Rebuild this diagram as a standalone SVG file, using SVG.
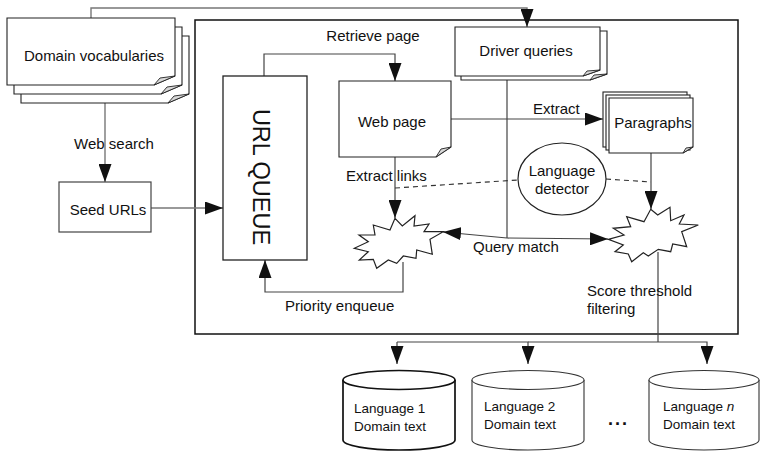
<svg xmlns="http://www.w3.org/2000/svg" width="760" height="451" viewBox="0 0 760 451">
<defs>
<marker id="ah" markerUnits="userSpaceOnUse" markerWidth="18" markerHeight="13" refX="18" refY="6.5" orient="auto">
<path d="M0,0 L18,6.5 L0,13 Z" fill="#111"/>
</marker>
</defs>
<style>
.sh{fill:#fff;stroke:#222;stroke-width:1.1}
.flap{fill:#d8d8d8;stroke:#222;stroke-width:0.9}
.t{font-family:"Liberation Sans",Arial,sans-serif;font-size:15px;fill:#111}
.tc{text-anchor:middle}
.ct{font-family:"Liberation Sans",Arial,sans-serif;font-size:13.5px;fill:#111}
.ln{fill:none;stroke:#444;stroke-width:1.2}
.lg{fill:none;stroke:#777;stroke-width:1.4}
.ar{marker-end:url(#ah)}
.dash{fill:none;stroke:#333;stroke-width:1.1;stroke-dasharray:5,4}
</style>

<g id="outer-box"><rect x="195" y="20" width="543" height="314" fill="none" stroke="#111" stroke-width="1.5"/></g>

<g id="connectors">
<path class="lg ar" d="M91,18 V8 H527 V27"/>
<path class="lg ar" d="M105,103 V182"/>
<path class="lg ar" d="M151,208 H223"/>
<path class="ln ar" d="M264,76 V54 H395 V81"/>
<path class="ln ar" d="M395,157 V218"/>
<path class="ln ar" d="M451,119 H603"/>
<path class="ln" d="M507,80 V238"/>
<path class="ln ar" d="M507,238 L443,232"/>
<path class="ln ar" d="M507,238 L608,239"/>
<path class="ln ar" d="M651,153 V209"/>
<path class="ln ar" d="M403,262 V292 H265 V260"/>
<path class="dash" d="M395,188 L518,180"/>
<path class="dash" d="M606,179 L651,182"/>
<path class="ln" d="M658,252 V342"/>
<path class="ln ar" d="M397,342 V364"/>
<path class="ln ar" d="M397,342 H528 V364"/>
<path class="ln ar" d="M528,342 H707 V364"/>
<text class="t tc" x="114" y="149">Web search</text>
<text class="t tc" x="373" y="41">Retrieve page</text>
<text class="t" x="533" y="114">Extract</text>
<text class="t" x="346" y="181">Extract links</text>
<text class="t" x="473" y="252">Query match</text>
<text class="t" x="285" y="311">Priority enqueue</text>
<text class="t" x="587" y="296">Score threshold</text>
<text class="t" x="587" y="314">filtering</text>
</g>

<g id="domain-vocabularies">
<path class="sh" d="M21,36 H189 V94 L168,103 H21 Z"/>
<path class="flap" d="M189,94 L174,96 L168,103 Z"/>
<path class="sh" d="M14,27 H182 V85 L161,94 H14 Z"/>
<path class="flap" d="M182,85 L167,87 L161,94 Z"/>
<path class="sh" d="M7,18 H175 V76 L154,85 H7 Z"/>
<path class="flap" d="M175,76 L160,78 L154,85 Z"/>
<text class="t tc" x="94" y="61">Domain vocabularies</text>
</g>

<g id="seed-urls">
<rect x="59" y="182" width="92" height="50" fill="#fff" stroke="#444" stroke-width="1.2"/>
<text class="t tc" x="108" y="215">Seed URLs</text>
</g>

<g id="url-queue">
<rect x="223" y="76" width="84" height="184" fill="#fff" stroke="#222" stroke-width="1.3"/>
<text class="t tc" x="253" y="177" style="font-size:23.5px" transform="rotate(90 253 177)">URL QUEUE</text>
</g>

<g id="web-page">
<path class="sh" d="M339,81 H451 V147 L436,157 H339 Z"/>
<path class="flap" d="M451,147 L441,149 L436,157 Z"/>
<text class="t tc" x="392" y="127">Web page</text>
</g>

<g id="driver-queries">
<path class="sh" d="M461,31 H607 V74 L590,80 H461 Z"/>
<path class="flap" d="M607,74 L594,75 L590,80 Z"/>
<path class="sh" d="M455,27 H600 V70 L583,76 H455 Z"/>
<path class="flap" d="M600,70 L587,71 L583,76 Z"/>
<text class="t tc" x="526" y="56">Driver queries</text>
</g>

<g id="paragraphs">
<rect class="sh" x="603" y="92" width="84" height="55"/>
<rect class="sh" x="606" y="95" width="84" height="55"/>
<path class="sh" d="M609,98 H693 V147 L683,153 H609 Z"/>
<path class="flap" d="M693,147 L686,148 L683,153 Z"/>
<text class="t tc" x="653" y="128">Paragraphs</text>
</g>

<g id="language-detector">
<ellipse cx="562" cy="179" rx="44" ry="36" fill="#fff" stroke="#222" stroke-width="1.2"/>
<text class="t tc" x="562" y="176">Language</text>
<text class="t tc" x="562" y="194">detector</text>
</g>

<g id="link-filter">
<polygon points="395,218.3 402.3,226 415,215.7 414,226 429,224 424,231.7 443.3,231.7 430,239.3 432.3,254.3 416.7,250 416,258.3 403.3,256 396.7,263.3 388.3,260 376.7,268.3 373.3,259.3 359.3,260 368.3,251.7 354.3,248.3 368.3,241.7 359,235 375,235 373.3,225 390,230" fill="#fff" stroke="#222" stroke-width="1.2"/>
</g>

<g id="score-filter">
<polygon points="650.7,209.3 657.7,215 670,207.3 670.7,220.7 684,215 679.3,224 698.3,225 681.7,231.7 686.7,246.7 672.7,244 670.7,251.7 658.3,249.3 648.3,256 643.3,252.7 631.7,261.7 628.3,254 615,251.7 623.3,245 608.3,239.3 624,235 613.3,228.3 630.7,226.7 626.7,216.7 644,221.7" fill="#fff" stroke="#222" stroke-width="1.2"/>
</g>

<g id="language-1">
<path d="M343,380 V440 A56,10 0 0 0 455,440 V380" fill="#fff" stroke="#111" stroke-width="1.7"/>
<ellipse cx="399" cy="380" rx="56" ry="9.5" fill="#fff" stroke="#111" stroke-width="1.7"/>
<text class="ct" x="354" y="413">Language 1</text>
<text class="ct" x="354" y="431">Domain text</text>
</g>

<g id="language-2">
<path d="M472,380 V440 A56,10 0 0 0 584,440 V380" fill="#fff" stroke="#333" stroke-width="1.1"/>
<ellipse cx="528" cy="380" rx="56" ry="9.5" fill="#fff" stroke="#333" stroke-width="1.1"/>
<text class="ct" x="484" y="411">Language 2</text>
<text class="ct" x="484" y="429">Domain text</text>
</g>

<g id="ellipsis">
<text x="608" y="425" style="font-family:'Liberation Sans',Arial,sans-serif;font-size:18px;font-weight:bold;letter-spacing:2px;fill:#111">...</text>
</g>

<g id="language-n">
<path d="M649,380 V440 A55,10 0 0 0 759,440 V380" fill="#fff" stroke="#333" stroke-width="1.1"/>
<ellipse cx="704" cy="380" rx="55" ry="9.5" fill="#fff" stroke="#333" stroke-width="1.1"/>
<text class="ct" x="663" y="411">Language <tspan font-style="italic">n</tspan></text>
<text class="ct" x="663" y="429">Domain text</text>
</g>
</svg>
